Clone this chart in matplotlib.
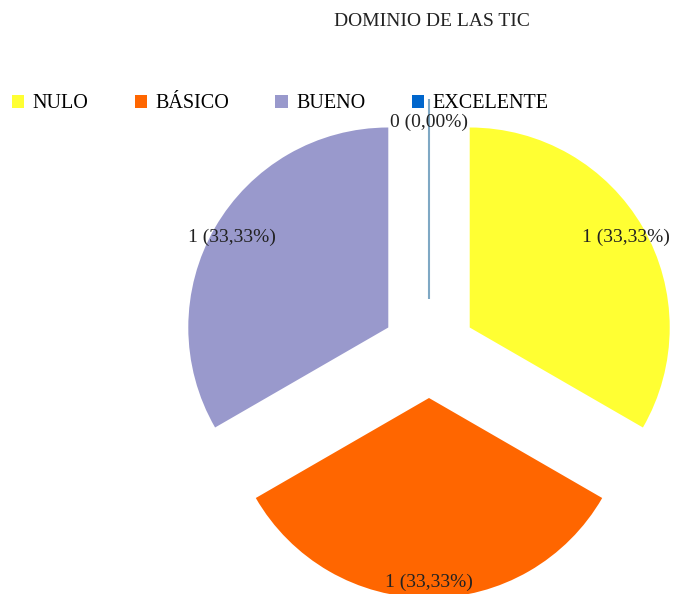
import matplotlib.pyplot as plt
from matplotlib.patches import Patch

plt.rcParams['font.family'] = ['Liberation Serif', 'DejaVu Serif']

# data
categories = ['NULO', 'BÁSICO', 'BUENO', 'EXCELENTE']
values = [1, 1, 1, 0]
colors = ['#FFFF33', '#FF6600', '#9999CC', '#0066CC']

radius = 200
# pie() takes explode in data units, so scale by radius
explode = [f * radius for f in [0.235, 0.235, 0.235, 0.26]]
label_dist = [0.90, 0.92, 0.90, 0.885]

total = sum(values)
labels = ['%d (%s%%)' % (v, ('%.2f' % (100.0 * v / total)).replace('.', ',')) for v in values]

fig = plt.figure(figsize=(6.76, 5.94), dpi=100)
ax = fig.add_axes([0, 0, 1, 1])

wedges, texts = ax.pie(values, colors=colors, explode=explode, labels=labels,
                       startangle=90, counterclock=False, radius=radius,
                       center=(429, 243), labeldistance=1.0, frame=True,
                       textprops={'fontsize': 14, 'color': '#222222'})
ax.set_xlim(0, 676)
ax.set_ylim(0, 594)
ax.set_aspect('equal')
ax.axis('off')
for w, t, d in zip(wedges, texts, label_dist):
    cx, cy = w.center
    tx, ty = t.get_position()
    t.set_position((cx + d * (tx - cx), cy + d * (ty - cy)))
    t.set_ha('center')
    t.set_va('center')

# zero slice shows as a thin line
wedges[3].set_edgecolor('#7FA8C4')
wedges[3].set_linewidth(1.5)

fig.text(432 / 676, 1 - 22 / 594, 'DOMINIO DE LAS TIC', ha='center', va='center',
         fontsize=14, color='#222222')

handles = [Patch(facecolor=c, edgecolor='none') for c in colors]
fig.legend(handles, categories, loc='center left', bbox_to_anchor=(12 / 676, 1 - 104 / 594),
           ncol=4, frameon=False, fontsize=14.5, borderpad=0, borderaxespad=0,
           handlelength=0.62, handleheight=0.62, handletextpad=0.4, columnspacing=2.3)

fig.savefig('out.png', dpi=100)
